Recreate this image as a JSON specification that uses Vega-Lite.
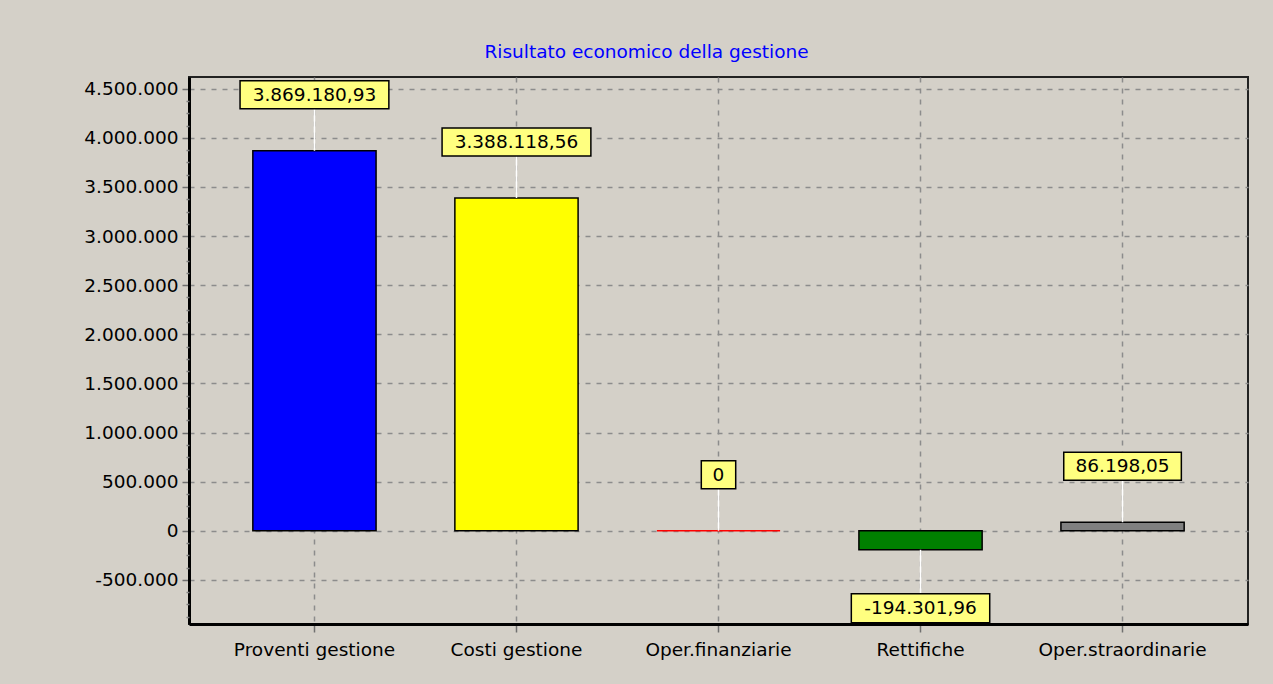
{
  "$schema": "https://vega.github.io/schema/vega-lite/v6.json",
  "width": 1059,
  "height": 547,
  "autosize": {"type": "none"},
  "padding": {"left": 189, "top": 77, "right": 25, "bottom": 60},
  "background": "#d4d0c8",
  "title": {
    "text": "Risultato economico della gestione",
    "color": "#0000ff",
    "font": "DejaVu Sans",
    "fontSize": 18.5,
    "fontWeight": "normal",
    "anchor": "middle",
    "offset": 16,
    "dx": -72
  },
  "config": {
    "locale": {"number": {"decimal": ",", "thousands": ".", "grouping": [3], "currency": ["€", ""], "minus": "-"}},
    "view": {"stroke": "#222222", "strokeWidth": 2, "fill": null}
  },
  "data": {
    "values": [
      {"cat": "Proventi gestione", "value": 3869180.93, "label": "3.869.180,93"},
      {"cat": "Costi gestione", "value": 3388118.56, "label": "3.388.118,56"},
      {"cat": "Oper.finanziarie", "value": 0, "label": "0"},
      {"cat": "Rettifiche", "value": -194301.96, "label": "-194.301,96"},
      {"cat": "Oper.straordinarie", "value": 86198.05, "label": "86.198,05"}
    ]
  },
  "transform": [{"calculate": "length(datum.label) * 10.4 + 24", "as": "boxw"}],
  "encoding": {
    "x": {
      "field": "cat",
      "type": "nominal",
      "sort": null,
      "scale": {"paddingInner": 0.39, "paddingOuter": 0.316},
      "axis": {
        "title": null,
        "labelAngle": 0,
        "labelFont": "DejaVu Sans",
        "labelFontSize": 18.5,
        "labelColor": "#000000",
        "labelPadding": 8,
        "tickSize": 8,
        "tickWidth": 1.5,
        "tickColor": "#707070",
        "domainColor": "#000000",
        "domainWidth": 3,
        "grid": true,
        "gridColor": "#8c8c8c",
        "gridDash": [5, 6],
        "gridWidth": 1.5
      }
    }
  },
  "resolve": {"axis": {"y": "independent"}},
  "layer": [
    {
      "mark": {"type": "bar", "strokeWidth": 1.5},
      "encoding": {
        "y": {
          "field": "value",
          "type": "quantitative",
          "scale": {"domain": [-950000, 4620000], "nice": false, "zero": false},
          "axis": {
            "title": null,
            "orient": "left",
            "values": [-500000, 0, 500000, 1000000, 1500000, 2000000, 2500000, 3000000, 3500000, 4000000, 4500000],
            "format": ",.0f",
            "labelFont": "DejaVu Sans",
            "labelFontSize": 18.5,
            "labelColor": "#000000",
            "labelPadding": 4,
            "tickSize": 7,
            "tickWidth": 1.5,
            "tickColor": "#707070",
            "domainColor": "#000000",
            "domainWidth": 3,
            "grid": true,
            "gridColor": "#8c8c8c",
            "gridDash": [5, 6],
            "gridWidth": 1.5
          }
        },
        "y2": {"datum": 0},
        "color": {
          "field": "cat",
          "type": "nominal",
          "scale": {
            "domain": ["Proventi gestione", "Costi gestione", "Oper.finanziarie", "Rettifiche", "Oper.straordinarie"],
            "range": ["#0000ff", "#ffff00", "#ff0000", "#008000", "#808080"]
          },
          "legend": null
        },
        "stroke": {"condition": {"test": "datum.value == 0", "value": "#ff0000"}, "value": "#000000"}
      }
    },
    {
      "transform": [{"filter": "datum.value >= 0"}],
      "mark": {"type": "rule", "color": "#ffffff", "strokeWidth": 1.5, "y2Offset": -42},
      "encoding": {
        "y": {
          "field": "value",
          "type": "quantitative",
          "axis": {
            "orient": "left",
            "title": null,
            "labels": false,
            "domain": false,
            "grid": false,
            "values": [-875000, -750000, -625000, -375000, -250000, -125000, 125000, 250000, 375000, 625000, 750000, 875000, 1125000, 1250000, 1375000, 1625000, 1750000, 1875000, 2125000, 2250000, 2375000, 2625000, 2750000, 2875000, 3125000, 3250000, 3375000, 3625000, 3750000, 3875000, 4125000, 4250000, 4375000],
            "tickSize": 3,
            "tickOffset": 0,
            "tickColor": "#808080",
            "tickWidth": 1.5
          }
        },
        "y2": {"field": "value"}
      }
    },
    {
      "transform": [{"filter": "datum.value < 0"}],
      "mark": {"type": "rule", "color": "#ffffff", "strokeWidth": 1.5, "y2Offset": 44},
      "encoding": {"y": {"field": "value", "type": "quantitative", "axis": null}, "y2": {"field": "value"}}
    },
    {
      "transform": [{"filter": "datum.value >= 0"}],
      "mark": {"type": "bar", "color": "#ffff80", "stroke": "#000000", "strokeWidth": 1.5, "yOffset": -70, "y2Offset": -42},
      "encoding": {"y": {"field": "value", "type": "quantitative", "axis": null}, "y2": {"field": "value"}, "size": {"field": "boxw", "type": "quantitative", "scale": null}}
    },
    {
      "transform": [{"filter": "datum.value < 0"}],
      "mark": {"type": "bar", "color": "#ffff80", "stroke": "#000000", "strokeWidth": 1.5, "yOffset": 44, "y2Offset": 73},
      "encoding": {"y": {"field": "value", "type": "quantitative", "axis": null}, "y2": {"field": "value"}, "size": {"field": "boxw", "type": "quantitative", "scale": null}}
    },
    {
      "transform": [{"filter": "datum.value >= 0"}],
      "mark": {"type": "text", "font": "DejaVu Sans", "fontSize": 18.5, "color": "#000000", "baseline": "middle", "align": "center", "dy": -56},
      "encoding": {"y": {"field": "value", "type": "quantitative", "axis": null}, "text": {"field": "label"}}
    },
    {
      "transform": [{"filter": "datum.value < 0"}],
      "mark": {"type": "text", "font": "DejaVu Sans", "fontSize": 18.5, "color": "#000000", "baseline": "middle", "align": "center", "dy": 58.5},
      "encoding": {"y": {"field": "value", "type": "quantitative", "axis": null}, "text": {"field": "label"}}
    }
  ]
}
